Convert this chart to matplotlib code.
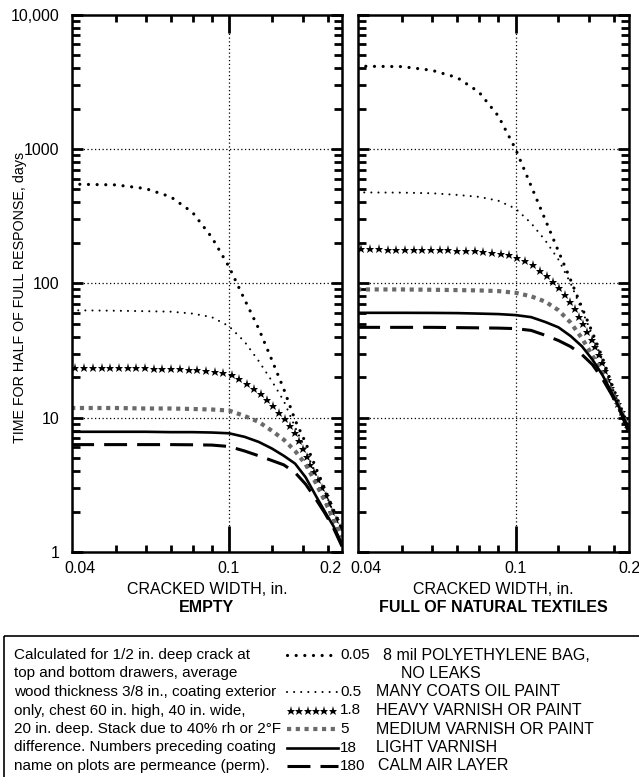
import numpy as np
import matplotlib
matplotlib.use('Agg')
import matplotlib.pyplot as plt
import matplotlib.patches as patches
from matplotlib.ticker import NullFormatter

plt.rcParams['font.family'] = ['Liberation Sans', 'DejaVu Sans']
plt.rcParams['font.size'] = 11.5

# Cracked width, in. (same sample points for every curve)
crack_width = [0.038, 0.05, 0.06, 0.07, 0.08, 0.09, 0.1, 0.11, 0.12,
               0.13, 0.14, 0.15, 0.16, 0.17, 0.18, 0.19, 0.2]

# Coating permeance (perm) and coating names.
perms = ['0.05', '0.5', '1.8', '5', '18', '180']
coatings = ['8 mil POLYETHYLENE BAG,', 'MANY COATS OIL PAINT',
            'HEAVY VARNISH OR PAINT', 'MEDIUM VARNISH OR PAINT',
            'LIGHT VARNISH', 'CALM AIR LAYER']

# Time for half of full response, days. Chest EMPTY.
empty_p005 = [547, 540, 507, 440, 337, 220, 133, 76, 46, 27, 16.3, 9.6,
              6.5, 4.3, 2.95, 2.05, 1.5]
empty_p05 = [63, 62.5, 62, 61.5, 59.5, 56, 48, 36.8, 26.4, 18.8, 13.3, 8.5,
             5.8, 3.8, 2.8, 1.95, 1.45]
empty_p18 = [23.5, 23.4, 23.3, 23.0, 22.6, 22.0, 21.1, 18.4, 15.4, 12.4,
             10.0, 7.6, 5.3, 3.7, 2.7, 1.9, 1.4]
empty_p5 = [11.8, 11.8, 11.7, 11.7, 11.6, 11.5, 11.3, 10.3, 9.3, 8.0, 6.85,
            5.65, 4.5, 3.3, 2.4, 1.75, 1.3]
empty_p18b = [7.85, 7.85, 7.85, 7.8, 7.8, 7.75, 7.65, 7.2, 6.6, 5.9, 5.2,
              4.55, 3.6, 2.65, 2.0, 1.55, 1.15]
empty_p180 = [6.3, 6.3, 6.3, 6.3, 6.28, 6.25, 6.1, 5.65, 5.2, 4.8, 4.45, 3.9,
              3.2, 2.5, 1.95, 1.5, 1.1]

# Time for half of full response, days. Chest FULL OF NATURAL TEXTILES.
full_p005 = [4130, 4100, 3850, 3400, 2650, 1760, 1000, 530, 296, 173, 106,
             66, 43, 28, 17.8, 12.0, 8.4]
full_p05 = [475, 473, 468, 455, 440, 412, 360, 280, 208, 150, 100, 63, 41,
            27, 17.2, 11.8, 8.3]
full_p18 = [179, 178, 177, 175, 172, 168, 157, 139, 116, 94, 72, 52, 37,
            25.5, 16.4, 11.6, 8.2]
full_p5 = [90, 90, 89.5, 89, 88.5, 87.5, 85, 80, 73, 63, 51, 39, 29, 21.5,
           15.8, 11.5, 8.1]
full_p18b = [60.3, 60.3, 60.2, 60, 59.5, 59, 58, 56, 51.5, 47, 40.5, 34, 27,
             20.8, 15.4, 11.3, 8.0]
full_p180 = [47, 47, 47, 46.8, 46.6, 46.4, 46, 44.6, 41, 37.5, 33.8, 29.5,
             24.8, 19.5, 14.8, 11.0, 7.8]

empty_curves = [empty_p005, empty_p05, empty_p18, empty_p5, empty_p18b, empty_p180]
full_curves = [full_p005, full_p05, full_p18, full_p5, full_p18b, full_p180]

# Axis ticks.
x_labels = ['0.04', '0.1', '0.2']
x_labelled = [0.04, 0.1, 0.2]
x_minor = [0.05, 0.06, 0.07, 0.08, 0.09, 0.13, 0.157, 0.183]
y_major = [1, 10, 100, 1000, 10000]
y_major_labels = ['1', '10', '100', '1000', '10,000']
y_minor = [2, 3, 4, 5, 6, 7, 8, 9, 20, 30, 40, 50, 60, 70, 80, 90,
           200, 300, 400, 500, 600, 700, 800, 900,
           2000, 3000, 4000, 5000, 6000, 7000, 8000, 9000]
y_grid = [10, 100, 1000]

note_lines = ['Calculated for 1/2 in. deep crack at',
              'top and bottom drawers, average',
              'wood thickness 3/8 in., coating exterior',
              'only, chest 60 in. high, 40 in. wide,',
              '20 in. deep. Stack due to 40% rh or 2\u00b0F',
              'difference. Numbers preceding coating',
              'name on plots are permeance (perm).']

line_styles = {
    '0.05': dict(color='k', lw=2.3, ls=(0, (0.01, 2.7)), dash_capstyle='round'),
    '0.5': dict(color='k', lw=1.5, ls=(0, (0.01, 3.4)), dash_capstyle='round'),
    '5': dict(color='#6a6a6a', lw=3.0, ls=(0, (1, 1.1)), dash_capstyle='butt'),
    '18': dict(color='k', lw=1.9, ls='-'),
    '180': dict(color='k', lw=2.2, ls=(0, (7.5, 3.3)), dash_capstyle='butt'),
}


def star_markers(ax, x, y, step=8.7):
    """ Put star markers at even spacing (pixels) along a curve. """
    xy = ax.transData.transform(np.column_stack([x, y]))
    dist = np.concatenate([[0], np.cumsum(np.hypot(*np.diff(xy, axis=0).T))])
    s = np.arange(step / 2, dist[-1], step)
    pts = np.column_stack([np.interp(s, dist, xy[:, 0]),
                           np.interp(s, dist, xy[:, 1])])
    px, py = ax.transData.inverted().transform(pts).T
    ax.plot(px, py, ls='none', marker='*', ms=6.5, mew=0, color='k')


def draw_curve(ax, x, y, perm):
    if perm == '1.8':
        star_markers(ax, x, y)
    else:
        ax.plot(x, y, **line_styles[perm])


def setup_axes(ax, show_ylabels, right_end_label):
    ax.set_xscale('log')
    ax.set_yscale('log')
    ax.set_xlim(0.0382, 0.2)
    ax.set_ylim(1, 10000)

    # Ticks: inward on all sides, long one at 0.1.
    ax.set_xticks([0.1], [''])
    ax.set_xticks(x_minor, minor=True)
    ax.xaxis.set_minor_formatter(NullFormatter())
    ax.set_yticks(y_major, y_major_labels if show_ylabels else [])
    ax.set_yticks(y_minor, minor=True)
    ax.yaxis.set_minor_formatter(NullFormatter())
    ax.tick_params(which='both', direction='in', bottom=True, top=True,
                   left=True, right=True, colors='black', width=2.0,
                   labelcolor='black', labelsize=11.5)
    ax.tick_params(axis='y', which='major', length=8, pad=9)
    ax.tick_params(axis='y', which='minor', length=5.5)
    ax.tick_params(axis='x', which='major', length=19)
    ax.tick_params(axis='x', which='minor', length=5)
    ax.xaxis.get_major_ticks()[0].tick2line.set_markersize(13)
    for s in ax.spines.values():
        s.set_linewidth(1.8)

    # x tick labels under the axis
    for v, lab in zip(x_labelled, x_labels):
        ha = right_end_label if v == 0.2 else 'center'
        ax.text(v, -0.016, lab, transform=ax.get_xaxis_transform(),
                ha=ha, va='top', fontsize=11.5)

    # Dotted reference lines.
    for v in y_grid:
        ax.axhline(v, color='k', lw=0.9, ls=(0, (1, 2)), zorder=1)
    ax.axvline(0.1, color='k', lw=0.9, ls=(0, (1, 2)), zorder=1)


fig = plt.figure(figsize=(6.39, 7.77), dpi=100)

bottom = 1 - 552 / 777
height = 537.4 / 777
ax1 = fig.add_axes([72 / 639, bottom, 270 / 639, height])
ax2 = fig.add_axes([358 / 639, bottom, 271 / 639, height])

panels = [(ax1, empty_curves, 'EMPTY', True, 'right'),
          (ax2, full_curves, 'FULL OF NATURAL TEXTILES', False, 'center')]
for ax, curves, title, show_y, end_ha in panels:
    setup_axes(ax, show_y, end_ha)
    for perm, days in zip(perms, curves):
        draw_curve(ax, crack_width, days, perm)
    ax.text(0.5, -0.069, 'CRACKED WIDTH, in.', transform=ax.transAxes,
            ha='center', va='center', fontsize=11.5)
    ax.text(0.5, -0.104, title, transform=ax.transAxes, ha='center',
            va='center', fontsize=11.5, fontweight='bold')

# Pixel-coordinate overlay for the y label and the key.
lax = fig.add_axes([0, 0, 1, 1], zorder=5)
lax.set_xlim(0, 639)
lax.set_ylim(777, 0)
lax.set_axis_off()

lax.text(20, 297, 'TIME FOR HALF OF FULL RESPONSE, days', rotation=90,
         ha='center', va='center', fontsize=10.3)

# Key box.
lax.add_patch(patches.Rectangle((4, 636), 700, 200, fill=False, lw=1.2,
                                edgecolor='k', clip_on=False))
row_y = [655 + 18.5 * i for i in range(7)]
for y, line in zip(row_y, note_lines):
    lax.text(14, y, line, ha='left', va='center', fontsize=11)

key_rows = [0, 2, 3, 4, 5, 6]
label_x = [383, 376, 376, 376, 376, 378]
for perm, name, r, lx in zip(perms, coatings, key_rows, label_x):
    y = row_y[r]
    if perm == '1.8':
        star_markers(lax, [287, 340], [y, y], step=8.3)
    else:
        lax.plot([287, 338], [y, y], **line_styles[perm])
    lax.text(340, y, perm, ha='left', va='center', fontsize=11)
    lax.text(lx, y, name, ha='left', va='center', fontsize=11.5)
lax.text(401, row_y[1], 'NO LEAKS', ha='left', va='center', fontsize=11.5)

fig.savefig('out.png', dpi=100)
